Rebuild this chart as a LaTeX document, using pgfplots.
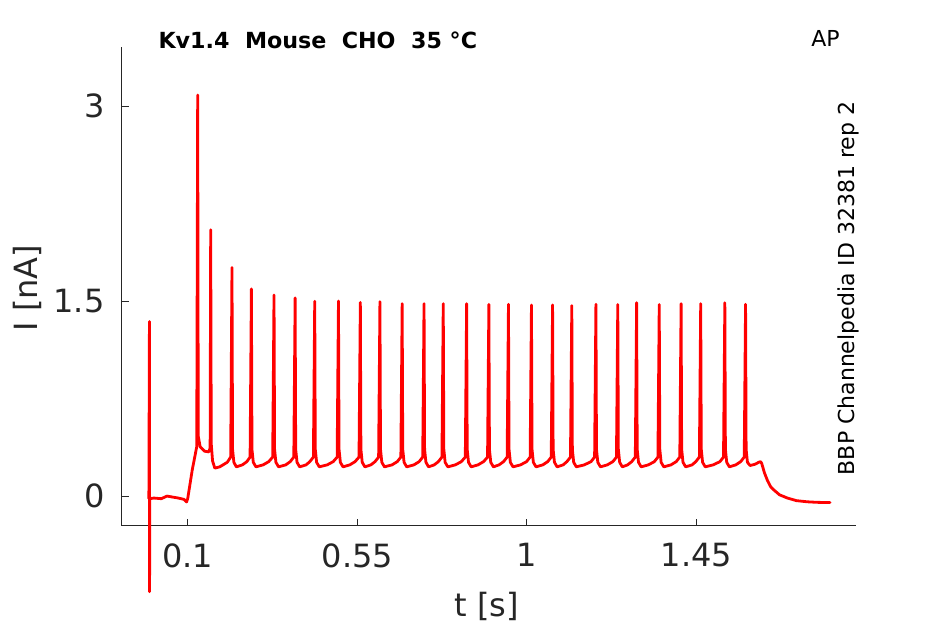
\documentclass[border=0pt]{standalone}
\usepackage{pgfplots}
\pgfplotsset{compat=1.18}
\usepackage{pgfplotstable}
\usepackage{fontspec}
\setmainfont{DejaVu Sans}
\definecolor{axgray}{RGB}{38,38,38}
\pgfplotstableread{
t I
-0.003 -0.02
-0.0015 1.343
-0.0012 -0.735
-0.0005 -0.02
0.010 -0.015
0.030 -0.020
0.045 0.000
0.055 -0.005
0.075 -0.015
0.090 -0.025
0.097 -0.045
0.100 -0.020
0.112 0.20
0.124 0.38
0.1265 3.085
0.1280 0.46
0.133 0.38
0.145 0.345
0.156 0.34
0.1595 0.37
0.161 2.048
0.1625 0.40
0.166 0.27
0.172 0.215
0.185 0.225
0.205 0.26
0.214 0.30
0.2175 1.758
0.219 0.36
0.2225 0.26
0.229 0.225
0.245 0.24
0.257 0.265
0.2655 0.30
0.269 1.594
0.2705 0.36
0.274 0.26
0.281 0.225
0.300 0.24
0.315 0.265
0.3255 0.30
0.329 1.546
0.3305 0.36
0.334 0.26
0.341 0.225
0.360 0.24
0.372 0.265
0.3815 0.30
0.385 1.525
0.3865 0.36
0.390 0.26
0.397 0.225
0.414 0.24
0.424 0.265
0.4335 0.30
0.437 1.499
0.4385 0.36
0.442 0.26
0.449 0.225
0.470 0.24
0.486 0.265
0.4965 0.30
0.500 1.50
0.5015 0.36
0.505 0.26
0.512 0.225
0.530 0.24
0.544 0.265
0.5545 0.30
0.558 1.49
0.5595 0.36
0.563 0.26
0.570 0.225
0.586 0.24
0.597 0.265
0.6065 0.30
0.610 1.495
0.6115 0.36
0.615 0.26
0.622 0.225
0.642 0.24
0.656 0.265
0.6655 0.30
0.669 1.48
0.6705 0.36
0.674 0.26
0.681 0.225
0.700 0.24
0.714 0.265
0.7235 0.30
0.727 1.48
0.7285 0.36
0.732 0.26
0.739 0.225
0.754 0.24
0.765 0.265
0.7745 0.30
0.778 1.48
0.7795 0.36
0.783 0.26
0.790 0.225
0.810 0.24
0.826 0.265
0.8365 0.30
0.840 1.48
0.8415 0.36
0.845 0.26
0.852 0.225
0.870 0.24
0.885 0.265
0.8955 0.30
0.899 1.475
0.9005 0.36
0.904 0.26
0.911 0.225
0.926 0.24
0.938 0.265
0.9475 0.30
0.951 1.475
0.9525 0.36
0.956 0.26
0.963 0.225
0.983 0.24
0.999 0.265
1.0085 0.30
1.012 1.47
1.0135 0.36
1.017 0.26
1.024 0.225
1.042 0.24
1.055 0.265
1.0645 0.30
1.068 1.47
1.0695 0.36
1.073 0.26
1.080 0.225
1.096 0.24
1.106 0.265
1.1155 0.30
1.119 1.465
1.1205 0.36
1.124 0.26
1.131 0.225
1.152 0.24
1.170 0.265
1.1795 0.30
1.183 1.475
1.1845 0.36
1.188 0.26
1.195 0.225
1.213 0.24
1.228 0.265
1.2375 0.30
1.241 1.474
1.2425 0.36
1.246 0.26
1.253 0.225
1.267 0.24
1.278 0.265
1.2875 0.30
1.291 1.487
1.2925 0.36
1.296 0.26
1.303 0.225
1.322 0.24
1.338 0.265
1.3475 0.30
1.351 1.474
1.3525 0.36
1.356 0.26
1.363 0.225
1.382 0.24
1.396 0.265
1.4055 0.30
1.409 1.48
1.4105 0.36
1.414 0.26
1.421 0.225
1.438 0.24
1.448 0.265
1.4575 0.30
1.461 1.48
1.4625 0.36
1.466 0.26
1.473 0.225
1.494 0.24
1.512 0.265
1.5215 0.30
1.525 1.487
1.5265 0.36
1.530 0.26
1.537 0.225
1.554 0.24
1.567 0.265
1.5765 0.30
1.580 1.475
1.5815 0.36
1.585 0.26
1.592 0.235
1.605 0.245
1.615 0.26
1.620 0.265
1.623 0.25
1.630 0.18
1.638 0.12
1.647 0.07
1.656 0.045
1.670 0.01
1.691 -0.015
1.715 -0.035
1.744 -0.044
1.770 -0.048
1.804 -0.05
}\trace
\begin{document}
\begin{tikzpicture}[x=1pt,y=1pt]
\useasboundingbox (0,0) rectangle (945,624);
\begin{axis}[
  at={(122pt,98pt)}, anchor=south west,
  scale only axis, width=734pt, height=479pt,
  xmin=-0.0743, xmax=1.873, ymin=-0.23, ymax=3.454,
  axis x line=bottom, axis y line=left,
  axis line style={-, axgray, line width=1pt},
  xtick={0.1,0.55,1,1.45}, ytick={0,1.5,3},
  xticklabels={0.1,0.55,1,1.45}, yticklabels={0,1.5,3},
  tick align=inside, major tick length=7pt,
  tick style={axgray, line width=1pt},
  ticklabel style={font=\fontsize{32}{36}\selectfont, text=axgray},
  xticklabel style={yshift=-14pt},
  yticklabel style={xshift=-14pt},
  clip=false,
]
\addplot[color=red, line width=2.8pt, line join=round, line cap=round] table[x=t,y=I] {\trace};
\end{axis}
\node[text=axgray, font=\fontsize{32}{36}\selectfont] at (487,18) {t [s]};
\node[text=axgray, font=\fontsize{32}{36}\selectfont, rotate=90] at (27.5,336) {I [nA]};
\node[anchor=west, font=\fontsize{22.2}{24}\bfseries] at (155,584) {Kv1.4\ \ Mouse\ \ CHO\ \ 35 °C};
\node[font=\fontsize{22}{24}\selectfont] at (825.5,586) {AP};
\node[rotate=90, font=\fontsize{22}{24}\selectfont] at (848.5,335.5) {BBP Channelpedia ID 32381 rep 2};
\end{tikzpicture}
\end{document}
